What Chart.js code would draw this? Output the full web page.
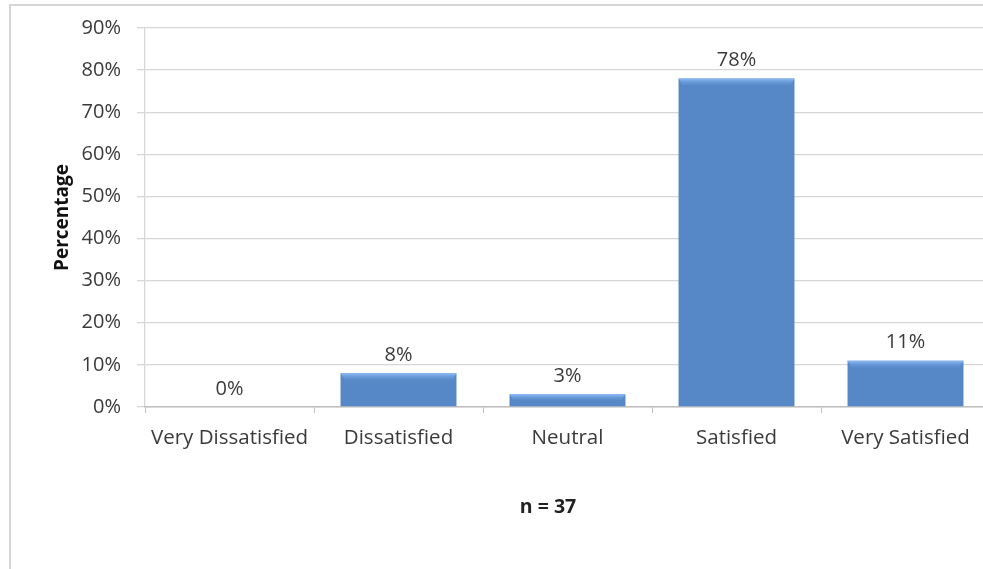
<!DOCTYPE html>
<html>
<head>
<meta charset="utf-8">
<script src="https://cdn.jsdelivr.net/npm/chart.js@4"></script>
<style>
    html, body { margin: 0; padding: 0; background: #fff; overflow: hidden; }
    #wrap { position: relative; width: 983px; height: 569px; overflow: hidden; }
    #frame {
        position: absolute; left: 9px; top: 4px; width: 1000px; height: 600px;
        border-left: 2px solid #d6d6d6; border-top: 2px solid #d6d6d6;
        pointer-events: none;
    }
    canvas { position: absolute; left: 0; top: 0; }
</style>
</head>
<body>
<div id="wrap">
    <canvas id="satChart" width="1000" height="569"></canvas>
    <div id="frame"></div>
</div>
<script>
const categories = ['Very Dissatisfied', 'Dissatisfied', 'Neutral', 'Satisfied', 'Very Satisfied'];
const percentages = [0, 8, 3, 78, 11];
const yTicks = [0, 10, 20, 30, 40, 50, 60, 70, 80, 90];
const sampleNote = 'n = 37';

const FONT = "'Open Sans', sans-serif";
const TEXT = '#3a3a3a';

// horizontal shading across each bar: light left edge, darker right edge
function barFill(context) {
    const el = context.element;
    if (!el || !el.width) return '#5687c6';
    const { x, width } = el.getProps(['x', 'width'], true);
    const g = context.chart.ctx.createLinearGradient(x - width / 2, 0, x + width / 2, 0);
    g.addColorStop(0, '#6a9ddc');
    g.addColorStop(0.04, '#5a8cca');
    g.addColorStop(0.5, '#5687c6');
    g.addColorStop(0.95, '#4f7fbd');
    g.addColorStop(1, '#3e6ca8');
    return g;
}

// top bevel, value labels and the sample size note
const barExtras = {
    id: 'barExtras',
    afterDatasetsDraw(chart) {
        const ctx = chart.ctx;
        const meta = chart.getDatasetMeta(0);
        ctx.save();
        meta.data.forEach((bar, i) => {
            const { x, y, base, width } = bar.getProps(['x', 'y', 'base', 'width'], true);
            const h = base - y;
            if (h > 0.5) {
                const bh = Math.min(7, h * 0.5);
                const g = ctx.createLinearGradient(0, y, 0, y + bh);
                g.addColorStop(0, '#8cbcf5');
                g.addColorStop(1, 'rgba(100,150,215,0.2)');
                ctx.fillStyle = g;
                ctx.beginPath();
                ctx.moveTo(x - width / 2, y);
                ctx.lineTo(x + width / 2, y);
                ctx.lineTo(x + width / 2 - 4, y + bh);
                ctx.lineTo(x - width / 2 + 4, y + bh);
                ctx.closePath();
                ctx.fill();
            }
            ctx.fillStyle = TEXT;
            ctx.font = '20px ' + FONT;
            ctx.textAlign = 'center';
            ctx.textBaseline = 'middle';
            ctx.fillText(percentages[i] + '%', x, y - 18);
        });
        ctx.fillStyle = '#222';
        ctx.font = 'bold 19.5px ' + FONT;
        ctx.textAlign = 'center';
        ctx.textBaseline = 'middle';
        ctx.fillText(sampleNote, 548, 507);
        ctx.restore();
    }
};

new Chart(document.getElementById('satChart'), {
    type: 'bar',
    data: {
        labels: categories,
        datasets: [{
            data: percentages,
            backgroundColor: barFill,
            borderWidth: 0,
            barPercentage: 0.686,
            categoryPercentage: 1
        }]
    },
    options: {
        responsive: false,
        animation: false,
        layout: { padding: { left: 10, right: 10, top: 26, bottom: 0 } },
        plugins: {
            legend: { display: false },
            tooltip: { enabled: false }
        },
        scales: {
            y: {
                min: 0,
                max: 90,
                afterFit(scale) { scale.width = 135; },
                afterBuildTicks(scale) { scale.ticks = yTicks.map(v => ({ value: v })); },
                ticks: {
                    padding: 16,
                    color: TEXT,
                    font: { family: FONT, size: 20 },
                    callback: v => v + '%'
                },
                grid: { color: '#d6d6d6', tickLength: 8, lineWidth: 1.3 },
                border: { color: '#d6d6d6', width: 1.3 },
                title: {
                    display: true,
                    text: 'Percentage',
                    color: '#111',
                    font: { family: FONT, size: 19, weight: 'bold' },
                    padding: { top: 41, bottom: 0 }
                }
            },
            x: {
                afterFit(scale) { scale.height = 162; },
                ticks: {
                    padding: 13,
                    color: TEXT,
                    font: { family: FONT, size: 20.5 },
                    maxRotation: 0,
                    autoSkip: false
                },
                grid: { drawOnChartArea: false, drawTicks: true, tickLength: 6, color: '#bfbfbf' },
                border: { color: '#bfbfbf', width: 1.5 }
            }
        }
    },
    plugins: [barExtras]
});
</script>
</body>
</html>
